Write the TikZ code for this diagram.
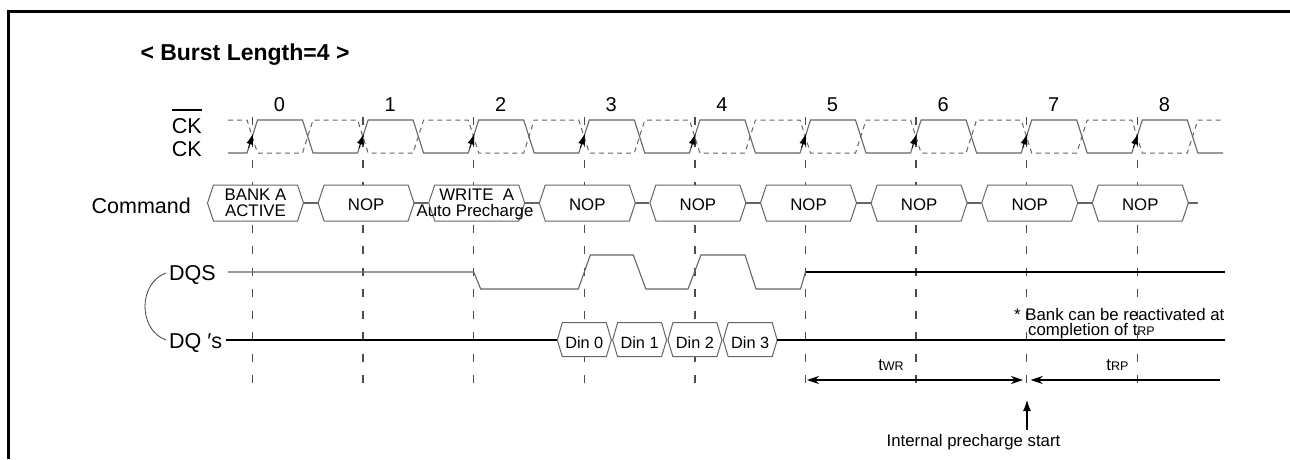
\documentclass[tikz,border=0pt]{standalone}
\usepackage{fontspec}
\setmainfont{Liberation Sans}
\usetikzlibrary{arrows.meta}
\definecolor{wavegray}{gray}{0.4}
\definecolor{gridgray}{gray}{0.3}
\begin{document}
\begin{tikzpicture}[x=1pt,y=-1pt,
  wave/.style={draw=wavegray,line width=1.1pt},
  ckbar/.style={draw=wavegray,line width=1pt,dash pattern=on 5pt off 4pt},
  vgrid/.style={draw=gridgray,line width=1.3pt,dash pattern=on 8pt off 13.5pt},
  hexbox/.style={draw=wavegray,fill=white,line width=1pt},
  lbl/.style={font=\fontsize{21.5}{21.5}\selectfont,inner sep=0pt},
  small/.style={font=\fontsize{16.8}{17}\selectfont,inner sep=0pt},
  num/.style={font=\fontsize{20}{20}\selectfont,inner sep=0pt},
  cktip/.style={-{Latex[length=11pt,width=7pt]}},
  dimtip/.style={-{Stealth[length=10pt,width=7pt]}}
]
\useasboundingbox (0,0) rectangle (1290,459);
\fill[white] (0,0) rectangle (1290,459);
% frame
\draw[line width=3pt] (8.5,459) -- (8.5,11.5) -- (1290,11.5);
% title
\node[font=\fontsize{23}{23}\selectfont\bfseries,anchor=base,inner sep=0pt] (title) at (245,60) {< Burst Length=4 >};
% vertical dashed clock lines
\foreach \k in {0,...,8}{
  \draw[vgrid] ({252.5+110.6*\k},117) -- ({252.5+110.6*\k},396);
}
% clock numbers
\foreach \k in {0,...,8}{
  \node[num,anchor=base] (n\k) at ({279.5+110.6*\k},111.7) {\k};
}
% CK (solid)
\draw[wave] (228,153) \foreach \k in {0,...,8}{ -- ({247+110.6*\k},153) -- ({257.5+110.6*\k},120) -- ({302.5+110.6*\k},120) -- ({313+110.6*\k},153) } -- (1223,153);
% CK bar (dashed)
\draw[ckbar] (228,120) \foreach \k in {0,...,8}{ -- ({247+110.6*\k},120) -- ({257.5+110.6*\k},153) -- ({302.5+110.6*\k},153) -- ({313+110.6*\k},120) } -- (1223,120);
% rising edge arrows
\foreach \k in {0,...,8}{
  \draw[cktip,black,line width=0.8pt] ({248.5+110.6*\k},148) -- ({253.2+110.6*\k},133.5);
}
% labels
\node[lbl,anchor=base east] (ckb) at (202,133.3) {\sbox0{CK}\rlap{\rule[\dimexpr\ht0+7.5pt\relax]{\wd0}{1.4pt}}\usebox0};
\node[lbl,anchor=base east] (ck) at (202,156.7) {CK};
\node[lbl,anchor=base east] (cmd) at (191,213.5) {Command};
\node[lbl,anchor=base west] (dqs) at (169,280.5) {DQS};
\node[lbl,anchor=base west] (dq) at (169,348) {DQ ′s};
% bracket curve
\coordinate (bs) at (166,273);
\coordinate (be) at (166,340);
\draw[black!75,line width=0.8pt] (bs) .. controls (138,283) and (138,330) .. (be);
% command boxes
\foreach \k in {0,...,8}{
  \pgfmathsetmacro\c{255.5+110.6*\k}
  \draw[hexbox] ({\c-48},203) -- ({\c-42},185) -- ({\c+42},185) -- ({\c+48},203) -- ({\c+42},221) -- ({\c-42},221) -- cycle;
}
\foreach \k in {0,...,7}{
  \draw[wave] ({303.5+110.6*\k},203) -- ({317.6+110.6*\k},203);
}
\draw[wave] (1188.3,203) -- (1198,203);
% command texts
\node[small,anchor=base] (c0a) at (255.5,200.5) {BANK A};
\node[small,anchor=base] (c0b) at (255.5,216.5) {ACTIVE};
\node[small,anchor=base] (c2a) at (476.7,200.5) {WRITE\ \ A};
\node[small,anchor=base] (c2b) at (475,216.5) {Auto Precharge};
\foreach \k in {1,3,4,5,6,7,8}{
  \node[small,anchor=base] (nop\k) at ({255.5+110.6*\k},210) {NOP};
}
% DQS
\draw[wave] (228,272) -- (473.7,272) -- (480.7,289) -- (578.3,289) -- (590.3,255) -- (633.3,255) -- (645.8,289) -- (688,289) -- (701,255) -- (745,255) -- (756,289) -- (800.5,289) -- (805.5,272);
\draw[black,line width=1.1pt] (805.5,272) -- (1225,272);
% DQ
\draw[black,line width=1.1pt] (226,340) -- (557.3,340);
\foreach \k in {0,...,3}{
  \pgfmathsetmacro\d{584.3+55.3*\k}
  \draw[hexbox] ({\d-27},340) -- ({\d-22},322.7) -- ({\d+22},322.7) -- ({\d+27},340) -- ({\d+22},356.7) -- ({\d-22},356.7) -- cycle;
  \node[font=\fontsize{16.3}{16}\selectfont,inner sep=0pt,anchor=base] (din\k) at (\d,348) {Din \k};
}
\draw[black,line width=1.1pt] (777.2,340) -- (1225,340);
% timing arrows
\coordinate (wrA) at (807,380);
\coordinate (wrB) at (1023,380);
\coordinate (rpA) at (1030.7,380);
\coordinate (rpB) at (1220,380);
\draw[black,line width=1.1pt,{Stealth[length=12pt,width=8pt]}-{Stealth[length=12pt,width=8pt]}] (wrA) -- (wrB);
\draw[black,line width=1.1pt,{Stealth[length=12pt,width=8pt]}-] (rpA) -- (rpB);
\node[small,anchor=base] (twr) at (891,370) {t{\fontsize{12.5}{12}\selectfont WR}};
\node[small,anchor=base] (trp) at (1117.5,370) {t{\fontsize{12.5}{12}\selectfont RP}};
% internal precharge
\node[small,anchor=base] (ips) at (973.5,446) {Internal precharge start};
\coordinate (ipA) at (1027,430);
\coordinate (ipB) at (1027,400);
\draw[black,line width=1.1pt,-{Latex[length=11pt,width=8pt]}] (ipA) -- (ipB);
% note
\node[small,anchor=base west] (note1) at (1014,320.5) {* Bank can be reactivated at};
\node[small,anchor=base west] (note2) at (1028,335.5) {completion of t{\fontsize{12.5}{12}\selectfont RP}};
\end{tikzpicture}
\end{document}
